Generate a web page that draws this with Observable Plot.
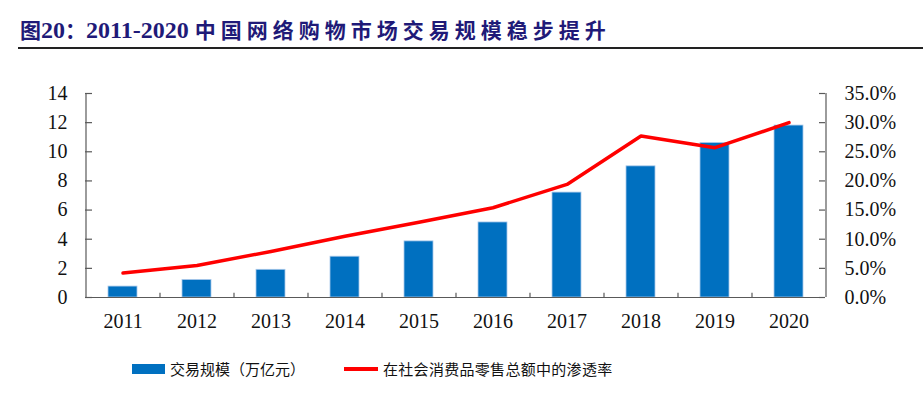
<!DOCTYPE html>
<html>
<head>
<meta charset="utf-8">
<script src="https://cdn.jsdelivr.net/npm/d3@7"></script>
<script src="https://cdn.jsdelivr.net/npm/@observablehq/plot@0.6"></script>
<style>
  html, body { margin: 0; padding: 0; background: #fff; }
  #wrap { position: relative; width: 923px; height: 396px; overflow: hidden; }
  #title { position: absolute; left: 20px; top: 14px; line-height: 30px; white-space: nowrap; color: #1f1a78; font-weight: bold; }
  .cjk { font-family: "Noto Sans CJK SC", sans-serif; font-size: 21px; letter-spacing: 5px; }
  .lat { font-family: "Liberation Serif", serif; font-size: 24px; }
  #rule { position: absolute; left: 18px; right: 0; top: 47px; height: 2px; background: #222; }
  #chart { position: absolute; left: 0; top: 50px; }
  .leg { position: absolute; font-family: "Noto Sans CJK SC", sans-serif; font-size: 15px; color: #111; line-height: 20px; white-space: nowrap; }
  .sw { position: absolute; }
</style>
</head>
<body>
<div id="wrap">
  <div id="title"><span class="cjk" style="letter-spacing:0">图</span><span class="lat">20</span><span class="cjk" style="letter-spacing:0">：</span><span class="lat">2011-2020 </span><span class="cjk">中国网络购物市场交易规模稳步提升</span></div>
  <div id="rule"></div>
  <div id="chart"></div>
  <div class="sw" style="left:132px; top:364px; width:33px; height:10px; background:#0070c0;"></div>
  <div class="leg" style="left:170px; top:359px;">交易规模（万亿元）</div>
  <div class="sw" style="left:344px; top:367px; width:34px; height:4px; background:#ff0000;"></div>
  <div class="leg" style="left:383px; top:359px; letter-spacing:0.3px;">在社会消费品零售总额中的渗透率</div>
</div>
<script>
const years = ["2011","2012","2013","2014","2015","2016","2017","2018","2019","2020"];
const scaleValues = [0.75, 1.2, 1.9, 2.8, 3.85, 5.15, 7.2, 9.0, 10.6, 11.8];
const penetration = [4.2, 5.5, 7.9, 10.5, 12.9, 15.4, 19.4, 27.7, 25.7, 30.0];
const leftTicks = [0, 2, 4, 6, 8, 10, 12, 14];
const rightFactor = 14 / 35; // 35% maps to 14 on the left scale

const data = years.map((y, i) => ({year: y, value: scaleValues[i], pct: penetration[i]}));

const axisColor = "#595959";
const W = 923, H = 290, mL = 85, mR = 98, mT = 43, mB = 43;
const plotW = W - mL - mR;
const step = plotW / years.length;

const chart = Plot.plot({
  width: W,
  height: H,
  marginLeft: mL,
  marginRight: mR,
  marginTop: mT,
  marginBottom: mB,
  style: {fontFamily: "'Liberation Serif', serif", fontSize: "20px", color: "#111", background: "transparent"},
  x: {domain: years, paddingInner: 0.61, paddingOuter: 0.305, label: null},
  y: {domain: [0, 14], label: null},
  marks: [
    Plot.barY(data, {x: "year", y: "value", fill: "#0070c0", stroke: "#a8c8ea", strokeWidth: 0.8}),
    Plot.line(data, {x: "year", y: d => d.pct * rightFactor, stroke: "#ff0000", strokeWidth: 3.5}),
    Plot.ruleY([0], {stroke: axisColor, strokeWidth: 1.2}),
    Plot.ruleX([years[0]], {y1: 0, y2: 14, dx: -step / 2, stroke: axisColor, strokeWidth: 1.2}),
    Plot.ruleX([years[years.length - 1]], {y1: 0, y2: 14, dx: step / 2, stroke: axisColor, strokeWidth: 1.2}),
    Plot.ruleY(leftTicks, {insetRight: plotW - 7, stroke: axisColor, strokeWidth: 1.2}),
    Plot.ruleY(leftTicks, {insetLeft: plotW - 6, stroke: axisColor, strokeWidth: 1.2}),
    Plot.ruleX(years.slice(1), {y1: 0, y2: 0.3, dx: -step / 2, stroke: axisColor, strokeWidth: 1.2}),
    Plot.axisY({anchor: "left", ticks: leftTicks, tickSize: 0, tickPadding: 18, fontSize: 20}),
    Plot.axisY({anchor: "right", ticks: leftTicks, tickSize: 0, tickPadding: 19, fontSize: 20,
      tickFormat: d => (d / rightFactor).toFixed(1) + "%"}),
    Plot.axisX({anchor: "bottom", tickSize: 0, tickPadding: 16, fontSize: 20})
  ]
});
document.getElementById("chart").appendChild(chart);
</script>
</body>
</html>
